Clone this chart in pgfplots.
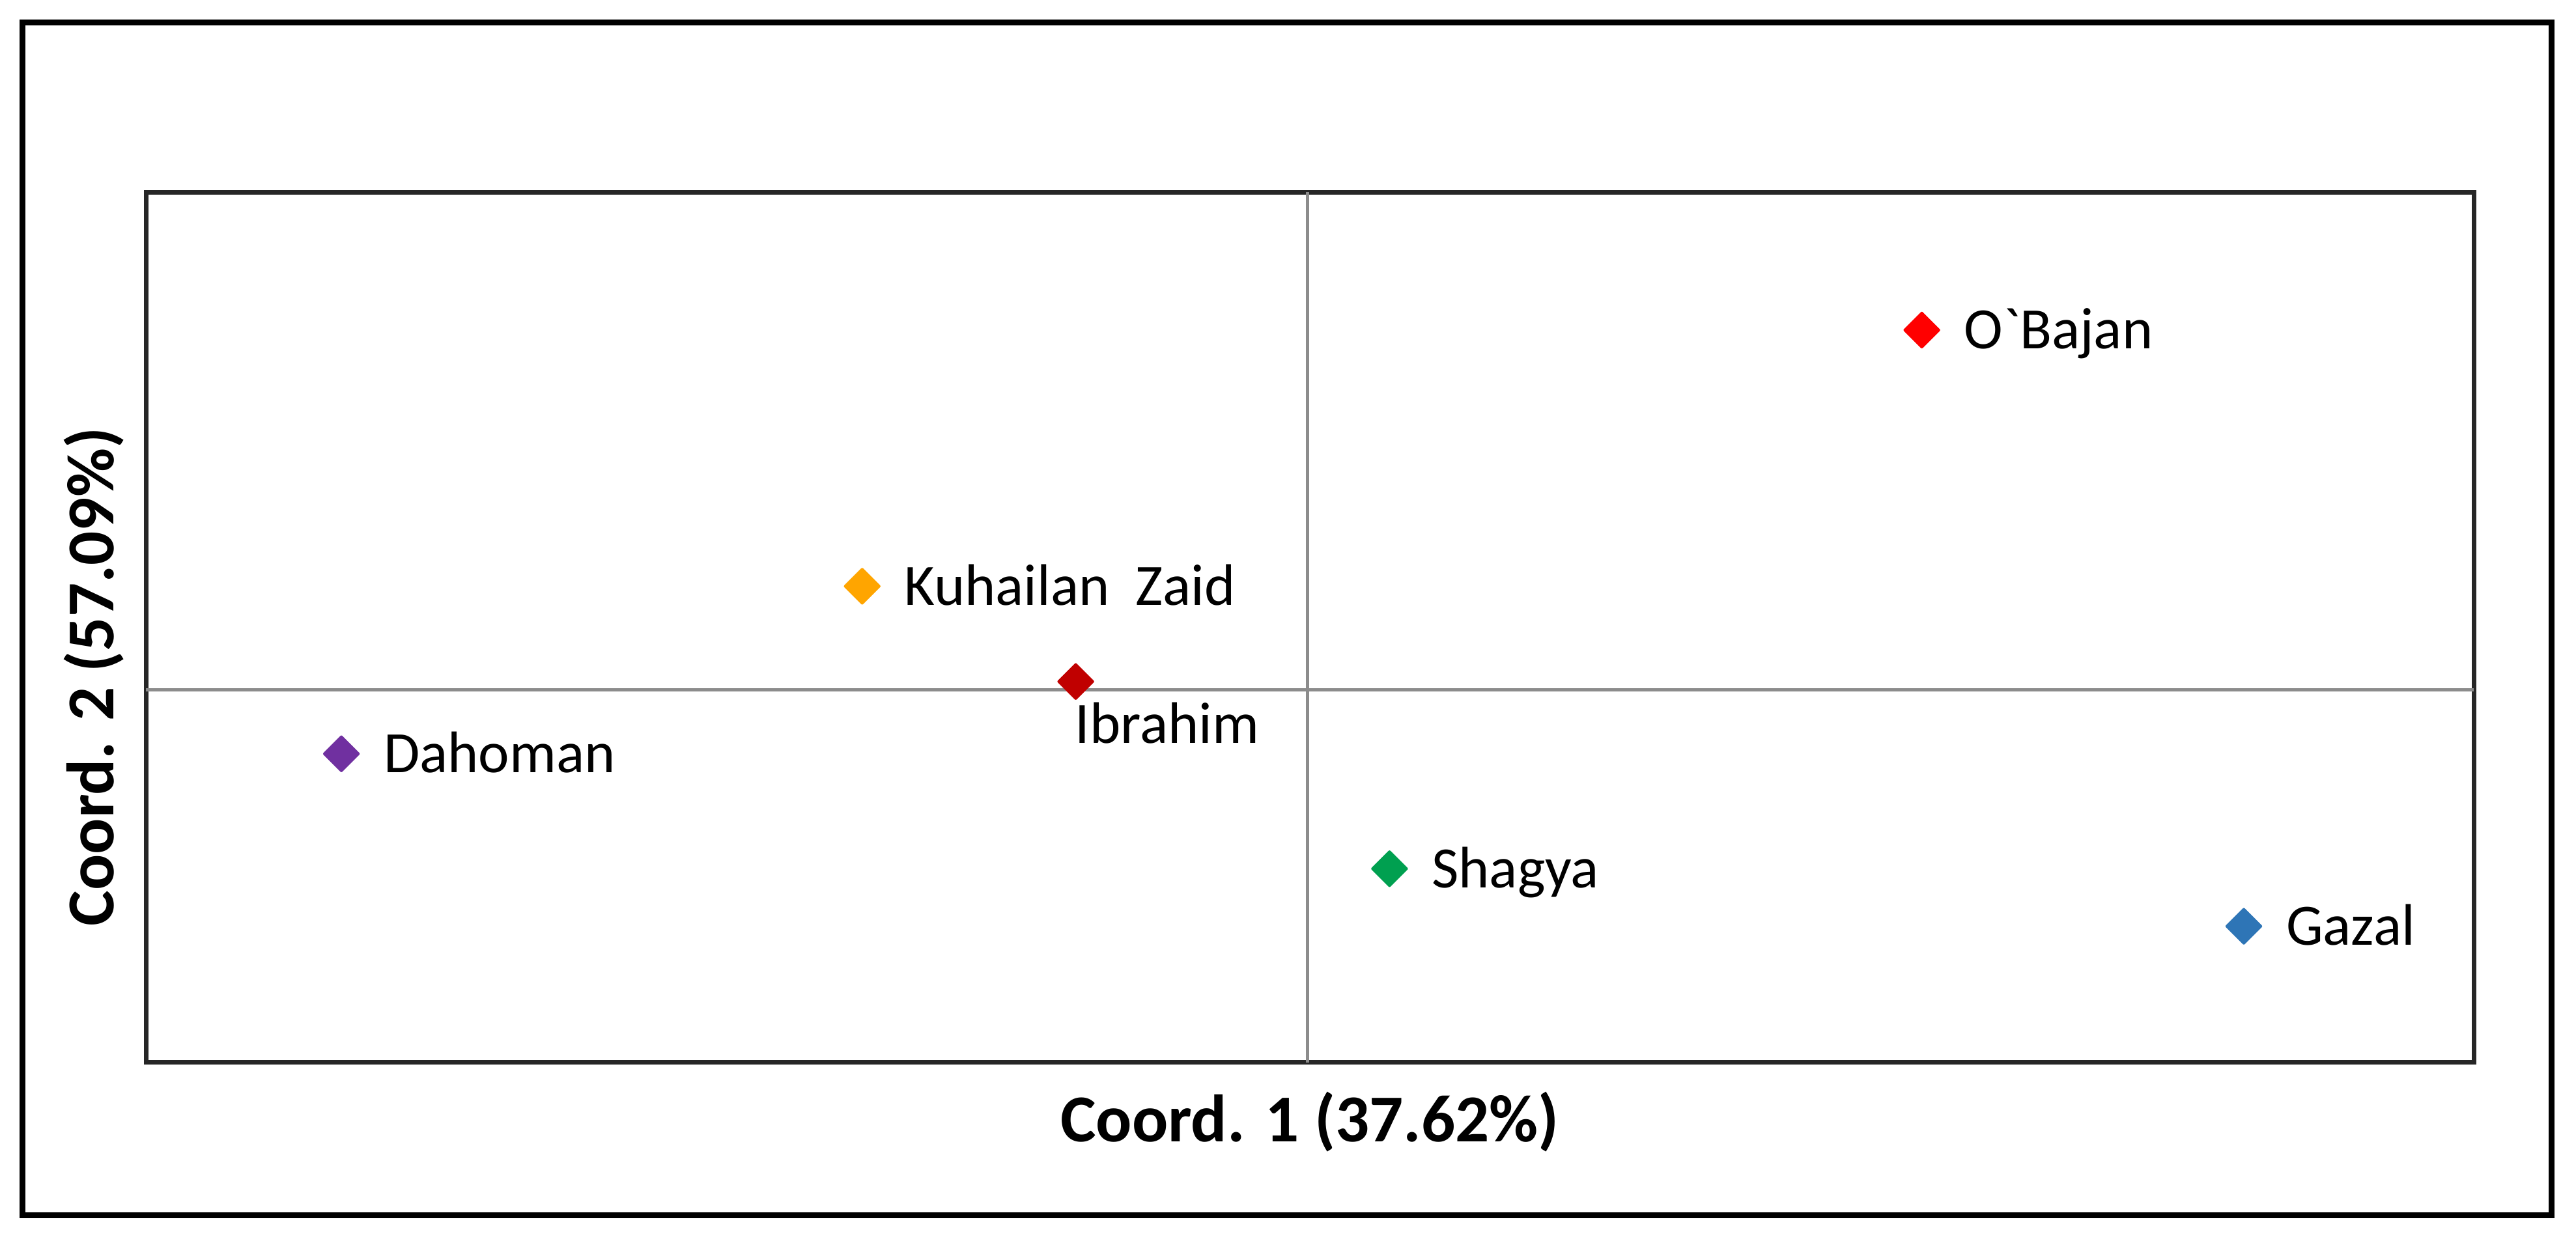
\documentclass[border=0pt]{standalone}
\usepackage{pgfplots}
\pgfplotsset{compat=1.18}
\usepackage{fontspec}
\setmainfont{Carlito}[Ligatures=TeXOff]
\definecolor{obajan}{HTML}{FF0000}
\definecolor{kuhailan}{HTML}{FFA500}
\definecolor{ibrahim}{HTML}{C00000}
\definecolor{dahoman}{HTML}{7030A0}
\definecolor{shagya}{HTML}{00A050}
\definecolor{gazal}{HTML}{2E75B6}
\newcommand{\labfont}{\fontsize{9}{10}\selectfont}
\newcommand{\titfont}{\fontsize{10.3}{12}\selectfont\bfseries}
\pgfplotsset{
  pt/.style={only marks, mark=square*, mark size=1.85pt,
    mark options={rotate=45, draw=#1, fill=#1, line join=round}},
  rlab/.style={nodes near coords={#1},
    nodes near coords style={anchor=base west, xshift=6.3pt, yshift=-2.9pt,
      font=\labfont, text=black, inner sep=0pt}},
}
\begin{document}
\begin{tikzpicture}
\path[use as bounding box] (-22.4pt,-29.3pt) rectangle (373.1pt,163.2pt);
\draw[line width=0.9pt, black] (-18.9pt,-23.4pt) rectangle (369.3pt,159.7pt);
\begin{axis}[
  at={(0,0)}, anchor=south west,
  width=357.4pt, height=133.7pt, scale only axis,
  xmin=-0.707, xmax=0.710, ymin=-0.227, ymax=0.303,
  xtick=\empty, ytick=\empty,
  axis line style={black!85, line width=0.7pt},
  clip=false,
  xlabel={Coord. 1 (37.62\%)},
  ylabel={Coord. 2 (57.09\%)},
  xlabel style={font=\titfont, at={([yshift=-9.1pt]rel axis cs:0.5,0)}, anchor=center},
  ylabel style={font=\titfont, at={([xshift=-8pt,yshift=-7.6pt]rel axis cs:0,0.5)}, anchor=center},
]
\draw[gray!90, line width=0.45pt] (axis cs:0,-0.227) -- (axis cs:0,0.303);
\draw[gray!90, line width=0.45pt] (axis cs:-0.707,0) -- (axis cs:0.710,0);
\addplot[pt=obajan, rlab={O`Bajan}] coordinates {(0.374,0.219)};
\addplot[pt=kuhailan, rlab={Kuhailan\ \ Zaid}] coordinates {(-0.271,0.063)};
\addplot[pt=dahoman, rlab={Dahoman}] coordinates {(-0.588,-0.039)};
\addplot[pt=shagya, rlab={Shagya}] coordinates {(0.050,-0.109)};
\addplot[pt=gazal, rlab={Gazal}] coordinates {(0.570,-0.144)};
\addplot[pt=ibrahim, nodes near coords={Ibrahim},
  nodes near coords style={anchor=north west, xshift=-0.3pt, yshift=-3.0pt,
    font=\labfont, text=black, inner sep=0pt}] coordinates {(-0.141,0.005)};
\end{axis}
\end{tikzpicture}
\end{document}
